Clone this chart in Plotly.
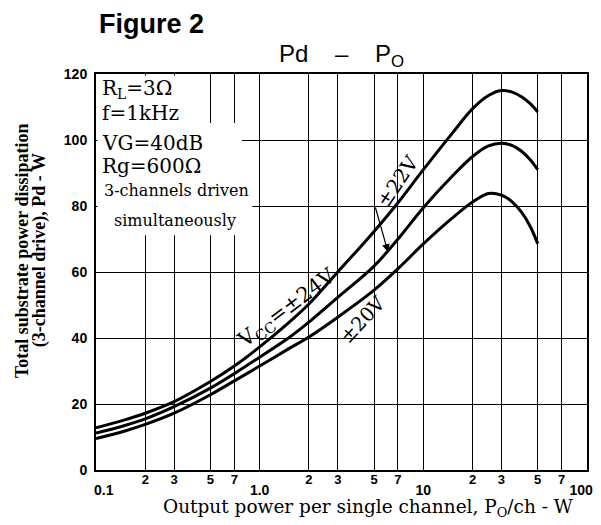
import plotly.graph_objects as go

# ---------------- data ----------------
po = [0.1, 0.15, 0.2, 0.3, 0.5, 0.7, 1, 1.5, 2, 3, 5, 7, 10, 15, 20, 25, 30, 35, 40, 45, 50]
pd_24v = [12.8, 15.2, 17.2, 20.7, 26.8, 31.5, 37.3, 44.6, 50.3, 60.0, 72.3, 81.0, 91.0,
          102.0, 109.5, 113.5, 115.0, 114.5, 113.0, 111.0, 108.5]
pd_22v = [11.2, 13.5, 15.5, 19.2, 24.8, 29.2, 34.2, 40.0, 44.8, 52.3, 61.8, 70.0, 79.5,
          89.0, 95.0, 98.2, 99.0, 98.3, 96.5, 94.0, 91.0]
pd_20v = [9.5, 11.8, 13.8, 17.2, 22.8, 27.0, 31.5, 36.7, 40.3, 46.3, 54.5, 61.0, 68.5,
          76.3, 81.2, 83.8, 83.3, 81.2, 78.0, 73.8, 68.6]

major_ticks = [0.1, 1, 10, 100]
major_labels = ["\u00a0\u00a0\u00a0\u00a00.1", "1.0", "10", "100\u00a0\u00a0\u00a0"]
minor_ticks = [0.2, 0.3, 0.5, 0.7, 2, 3, 5, 7, 20, 30, 50, 70]
minor_labels = ["2", "3", "5", "7", "2", "3", "5", "7", "2", "3", "5", "7"]
y_ticks = [0, 20, 40, 60, 80, 100, 120]
y_labels = ["0", "20", "40", "60", "80", "100", "120"]

SANS = "Liberation Sans"
SERIF = "DejaVu Serif"
TIMES = "Liberation Serif"

all_ticks = sorted(major_ticks + minor_ticks)
all_text = [major_labels[major_ticks.index(t)] if t in major_ticks else "" for t in all_ticks]

fig = go.Figure()
line = dict(color="black", width=3, shape="spline", smoothing=1.0)
fig.add_trace(go.Scatter(x=po, y=pd_24v, mode="lines", line=line, name="±24V", hoverinfo="skip"))
fig.add_trace(go.Scatter(x=po, y=pd_22v, mode="lines", line=line, name="±22V", hoverinfo="skip"))
fig.add_trace(go.Scatter(x=po, y=pd_20v, mode="lines", line=line, name="±20V", hoverinfo="skip",
                         xaxis="x2"))

# the page body has an 8px margin all round, so the figure is sized to fit inside it
fig.update_layout(
    width=593, height=509, autosize=False,
    margin=dict(l=88, r=14, t=66, b=47, pad=0, autoexpand=False),
    paper_bgcolor="white", plot_bgcolor="white",
    showlegend=False,
    xaxis=dict(type="log", range=[-1, 2], tickmode="array", tickvals=all_ticks, ticktext=all_text,
               showgrid=True, gridcolor="black", gridwidth=1.2, automargin=False,
               showline=True, linecolor="black", linewidth=2, mirror=True,
               ticks="", zeroline=False, ticklabelstandoff=6, ticklabeloverflow="allow",
               tickfont=dict(family=SANS, size=14, color="black", weight="bold")),
    xaxis2=dict(type="log", range=[-1, 2], overlaying="x", side="bottom", anchor="y",
                tickmode="array", tickvals=minor_ticks, ticktext=minor_labels, automargin=False,
                showgrid=False, showline=False, ticks="", zeroline=False,
                tickfont=dict(family=SANS, size=13, color="black", weight="bold")),
    yaxis=dict(range=[0, 120], tickmode="array", tickvals=y_ticks, ticktext=y_labels,
               showgrid=True, gridcolor="black", gridwidth=1.2, automargin=False,
               showline=True, linecolor="black", linewidth=2, mirror=True,
               ticks="", zeroline=False, ticklabelstandoff=4,
               tickfont=dict(family=SANS, size=14, color="black", weight="bold")),
)

# white masks behind the condition text block (hide gridlines)
for x1, y0, y1 in [(0.212, 0.876, 0.996), (0.297, 0.702, 0.876), (0.318, 0.593, 0.702)]:
    fig.add_shape(type="rect", xref="x domain", yref="y domain", x0=0.003, x1=x1, y0=y0, y1=y1,
                  fillcolor="white", line=dict(width=0), layer="above")

def ann(text, x, y, size, family=SERIF, xanchor="left", angle=0, weight="normal"):
    fig.add_annotation(text=text, x=x, y=y, xref="paper", yref="paper", showarrow=False,
                       xanchor=xanchor, yanchor="middle", textangle=angle,
                       font=dict(family=family, size=size, color="black", weight=weight))

# condition block
ann("R<sub>L</sub>=3Ω", 0.008, 0.962, 20)
ann("f=1kHz", 0.008, 0.902, 20)
ann("VG=40dB", 0.008, 0.826, 20)
ann("Rg=600Ω", 0.008, 0.768, 20)
ann("3-channels driven", 0.012, 0.705, 16)
ann("simultaneously", 0.161, 0.631, 16, xanchor="center")

# curve labels
ann("V<sub>CC</sub>=±24V", 0.391, 0.408, 21, xanchor="center", angle=-37)
ann("±22V", 0.615, 0.729, 20, xanchor="center", angle=-56)
ann("±20V", 0.544, 0.379, 19.5, xanchor="center", angle=-47)
fig.add_annotation(text="", x=0.5947, y=0.5505, xref="paper", yref="paper",
                   showarrow=True, ax=-13, ay=-46, arrowhead=2, arrowsize=1.3,
                   arrowwidth=1.2, arrowcolor="black")

# titles
ann("Figure 2", 0.002, 1.126, 27, family=SANS, weight="bold")
ann("Pd\u00a0\u00a0\u00a0\u00a0–\u00a0\u00a0\u00a0\u00a0P<sub>O</sub>", 0.499, 1.047, 24, family=SANS,
    xanchor="center")
ann("Output power per single channel, P<sub>O</sub>/ch - W", 0.554, -0.095, 18.5, xanchor="center")
ann("Total substrate power dissipation", -0.151, 0.555, 18, family=TIMES, xanchor="center",
    angle=-90, weight="bold")
ann("(3-channel drive), Pd - W", -0.116, 0.555, 18, family=TIMES, xanchor="center",
    angle=-90, weight="bold")

fig.write_html("out.html")
